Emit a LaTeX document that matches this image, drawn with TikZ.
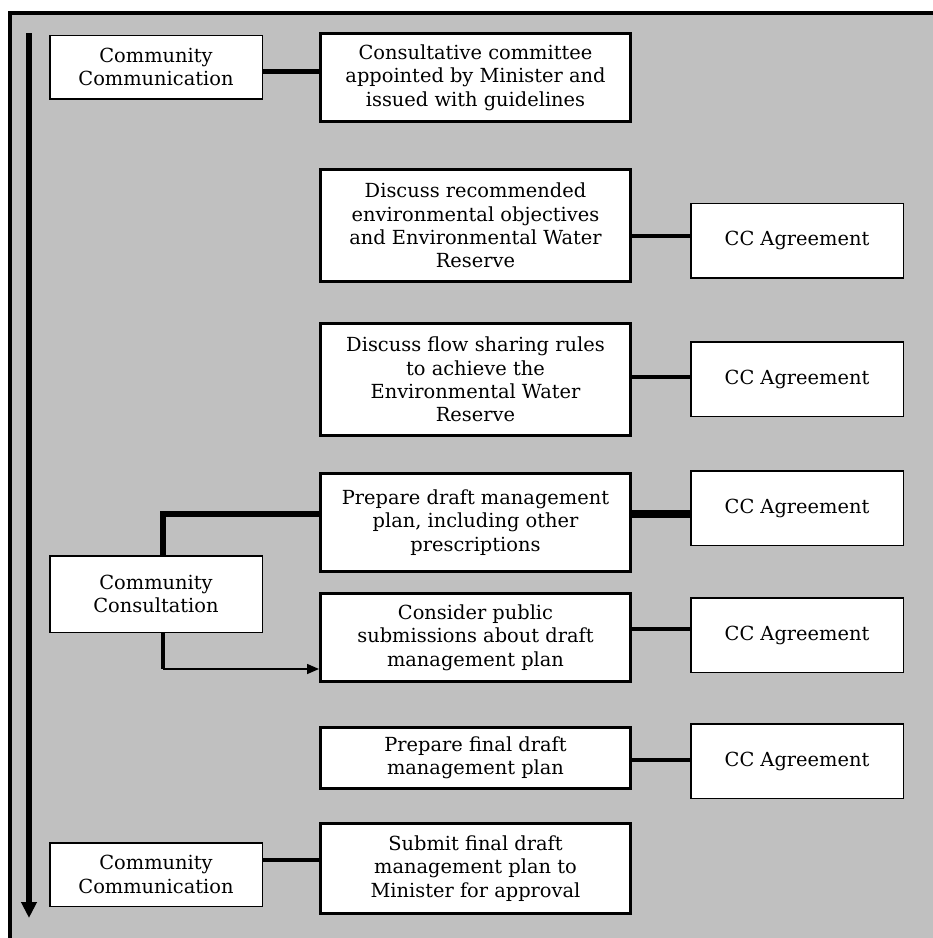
\documentclass[tikz,border=0pt]{standalone}
\usepackage{fontspec}
\setmainfont{DejaVu Serif}
\usetikzlibrary{arrows.meta,calc}
\definecolor{fondo}{HTML}{C0C0C0}
\tikzset{
  paso/.style={draw, line width=3pt, fill=white, align=center, inner sep=0pt,
    minimum width=310pt, font=\fontsize{19.4}{23.3}\selectfont},
  lado/.style={draw, line width=1.5pt, fill=white, align=center, inner sep=0pt,
    minimum width=212.5pt, font=\fontsize{19.4}{23.3}\selectfont},
}
\begin{document}
\begin{tikzpicture}[x=1pt, y=-1pt]
  \useasboundingbox (0,0) rectangle (933,938);
  % el fondo gris y su marco
  \fill[fondo] (10,13) rectangle (933,938);
  \draw[line width=3.5pt] (10,938) -- (10,13) -- (933,13);
  % la flecha larga de la izquierda
  \draw[line width=6pt, -{Triangle[length=16pt,width=15pt]}] (29,33) -- (29,918);
  % los pasos del centro
  \node[paso, minimum height=88pt] (consult) at (475.5,77.5)
    {Consultative committee\\appointed by Minister and\\issued with guidelines};
  \node[paso, minimum height=112pt] (discrec) at (475.5,225.5)
    {Discuss recommended\\environmental objectives\\and Environmental Water\\Reserve};
  \node[paso, minimum height=112pt] (discflow) at (475.5,379.5)
    {Discuss flow sharing rules\\to achieve the\\Environmental Water\\Reserve};
  \node[paso, minimum height=98pt] (prepdraft) at (475.5,522.5)
    {Prepare draft management\\plan, including other\\prescriptions};
  \node[paso, minimum height=88pt] (consider) at (475.5,637.5)
    {Consider public\\submissions about draft\\management plan};
  \node[paso, minimum height=61pt] (prepfinal) at (475.5,758)
    {Prepare final draft\\management plan};
  \node[paso, minimum height=90pt] (submit) at (475.5,868.5)
    {Submit final draft\\management plan to\\Minister for approval};
  % la comunidad, a la izquierda
  \node[lado, minimum height=63.5pt] (commtop) at (156,67) {Community\\Communication};
  \node[lado, minimum height=76.5pt] (commcons) at (156,594) {Community\\Consultation};
  \node[lado, minimum height=63.5pt] (commbot) at (156,874.5) {Community\\Communication};
  % los acuerdos del comité, a la derecha
  \foreach \n/\y in {a/240.5, b/379, c/508, d/635, e/761} {
    \node[lado, minimum height=74.5pt] (cc\n) at (797,\y) {CC Agreement};
  }
  \foreach \m/\c/\dy/\w in {discrec/cca/-4.5/4.5, discflow/ccb/-2/4.5, prepdraft/ccc/6/8,
                            consider/ccd/-6/4.5, prepfinal/cce/-1/4.5} {
    \draw[line width=\w pt] ($(\m.east |- \c.west)+(0,\dy)$) -- ($(\c.west)+(0,\dy)$);
  }
  \draw[line width=4.5pt] ($(commtop.east)+(0,4.5)$) -- ($(consult.west |- commtop.east)+(0,4.5)$);
  \draw[line width=4.5pt] ($(commbot.east)+(0,-14.5)$) -- ($(submit.west |- commbot.east)+(0,-14.5)$);
  % la consulta se abre hacia dos pasos
  \draw[line width=6pt] ([xshift=7pt]commcons.north) |- ($(prepdraft.west)+(0,-8.5)$);
  \coordinate (codo) at (163,669);
  \draw[line width=4.5pt] ([xshift=7pt]commcons.south) -- (codo);
  \draw[line width=1.5pt, -{Triangle[length=12pt,width=10pt]}] (codo) -- (codo -| consider.west);
\end{tikzpicture}
\end{document}
